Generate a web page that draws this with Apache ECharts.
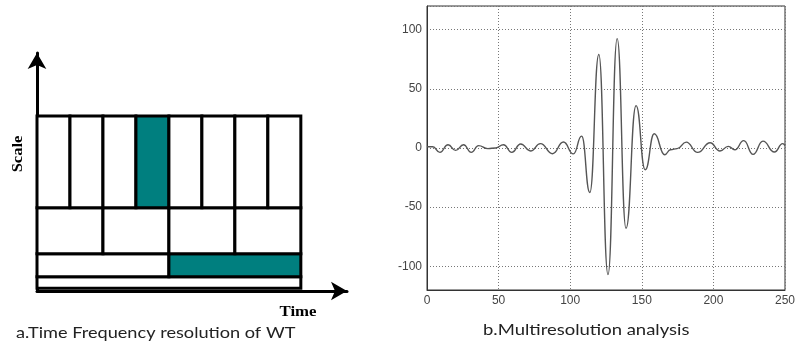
<!DOCTYPE html>
<html>
<head>
<meta charset="utf-8">
<script src="https://cdn.jsdelivr.net/npm/echarts@6/dist/echarts.min.js"></script>
<style>
  html, body { margin: 0; padding: 0; background: #fff; }
  #chart { width: 798px; height: 353px; }
</style>
</head>
<body>
<div id="chart"></div>
<script>
// left panel: time-scale tiling of the wavelet transform
// each tile: [time start, time end, scale start, scale end, filled]
const tiles = [
  [0, 8, 0, 1, 0],
  [0, 4, 1, 3, 0], [4, 8, 1, 3, 1],
  [0, 2, 3, 7, 0], [2, 4, 3, 7, 0], [4, 6, 3, 7, 0], [6, 8, 3, 7, 0],
  [0, 1, 7, 15, 0], [1, 2, 7, 15, 0], [2, 3, 7, 15, 0], [3, 4, 7, 15, 1],
  [4, 5, 7, 15, 0], [5, 6, 7, 15, 0], [6, 7, 7, 15, 0], [7, 8, 7, 15, 0]
];

// right panel: signal
const sigX = [0, 4, 9, 14.7, 20, 25.5, 30.9, 36, 42.5, 48, 53.4, 59.2, 65.4, 72.3, 79.2, 87.7,
  95.3, 102.2, 108, 113.7, 120, 126.4, 132.8, 139, 146, 152.4, 158.7, 166, 170, 174.7,
  181, 189, 197.7, 204.6, 210.4, 215, 221.2, 227.7, 234.6, 242.6, 248.4, 250];
const sigY = [1, 1, -3.7, 2.8, -2, 2.8, -3.7, 2, -0.5, 0, 2.8, -3.7, 3.4, -2.5, 3.7, -4.8,
  5.1, -5, 10, -37.6, 79, -107, 92.4, -67.8, 35.8, -18.4, 12, -5.7, -1.5, -0.5,
  5, -3.7, 4.5, -2.5, 1.4, -1.5, 6.2, -5.4, 5.8, -3.4, 3.7, 2];

const xTicks = [0, 50, 100, 150, 200, 250];
const yTicks = [-100, -50, 0, 50, 100];

const teal = '#007f7f';
const myChart = echarts.init(document.getElementById('chart'));

const option = {
  animation: false,
  backgroundColor: '#fff',
  grid: [
    { left: 37, top: 53, width: 310, height: 238 },
    { left: 427, top: 6, right: 9, bottom: 63, show: true, borderColor: '#333', borderWidth: 1 }
  ],
  xAxis: [
    {
      gridIndex: 0, type: 'value', min: 0, max: 9.4,
      axisLine: { onZero: false, symbol: ['none', 'arrow'], symbolSize: [14, 16], lineStyle: { color: '#000', width: 3 } },
      axisTick: { show: false }, axisLabel: { show: false }, splitLine: { show: false }
    },
    {
      gridIndex: 1, type: 'value', min: 0, max: 250, interval: 50,
      axisLine: { onZero: false, lineStyle: { color: '#333', width: 1 } },
      axisTick: { show: false },
      axisLabel: {
        margin: 5, color: '#444', fontFamily: 'Liberation Sans', fontSize: 12,
        formatter: v => (xTicks.indexOf(v) >= 0 ? String(v) : '')
      },
      splitLine: { show: true, lineStyle: { color: '#777', type: [1, 2], width: 1 } }
    }
  ],
  yAxis: [
    {
      gridIndex: 0, type: 'value', min: -0.25, max: 20.5,
      axisLine: { onZero: false, symbol: ['none', 'arrow'], symbolSize: [14, 16], lineStyle: { color: '#000', width: 3 } },
      axisTick: { show: false }, axisLabel: { show: false }, splitLine: { show: false }
    },
    {
      gridIndex: 1, type: 'value', min: -120, max: 120, splitNumber: 5,
      axisLine: { onZero: false, lineStyle: { color: '#333', width: 1 } },
      axisTick: { show: false },
      axisLabel: {
        margin: 5, color: '#444', fontFamily: 'Liberation Sans', fontSize: 12,
        showMinLabel: false, showMaxLabel: false,
        formatter: v => (yTicks.indexOf(v) >= 0 ? String(v) : '')
      },
      splitLine: { show: true, lineStyle: { color: '#777', type: [1, 2], width: 1 } }
    }
  ],
  series: [
    {
      type: 'custom',
      xAxisIndex: 0, yAxisIndex: 0,
      clip: false,
      data: tiles,
      renderItem: function (params, api) {
        const p0 = api.coord([api.value(0), api.value(3)]);
        const p1 = api.coord([api.value(1), api.value(2)]);
        return {
          type: 'rect',
          shape: { x: p0[0], y: p0[1], width: p1[0] - p0[0], height: p1[1] - p0[1] },
          style: { fill: api.value(4) ? teal : '#fff', stroke: '#000', lineWidth: 3 }
        };
      }
    },
    {
      type: 'line',
      xAxisIndex: 1, yAxisIndex: 1,
      data: sigX.map((x, i) => [x, sigY[i]]),
      showSymbol: false,
      smooth: 0.5,
      smoothMonotone: 'x',
      lineStyle: { color: '#555', width: 1.4 }
    }
  ],
  graphic: [
    {
      type: 'text', x: 18, y: 154, rotation: Math.PI / 2, scaleX: 1.1,
      style: { text: 'Scale', font: 'bold 15px "Liberation Serif"', fill: '#000', align: 'center', verticalAlign: 'middle' }
    },
    {
      type: 'text', x: 298, y: 312, scaleX: 1.2,
      style: { text: 'Time', font: 'bold 14px "Liberation Serif"', fill: '#000', align: 'center', verticalAlign: 'middle' }
    },
    {
      type: 'text', x: 16, y: 333, scaleX: 1.21,
      style: { text: 'a.Time Frequency resolution of WT', font: '15px Lato', fill: '#222', align: 'left', verticalAlign: 'middle' }
    },
    {
      type: 'text', x: 483, y: 330, scaleX: 1.23,
      style: { text: 'b.Multiresolution analysis', font: '15px Lato', fill: '#222', align: 'left', verticalAlign: 'middle' }
    }
  ]
};

option && myChart.setOption(option);
</script>
</body>
</html>
